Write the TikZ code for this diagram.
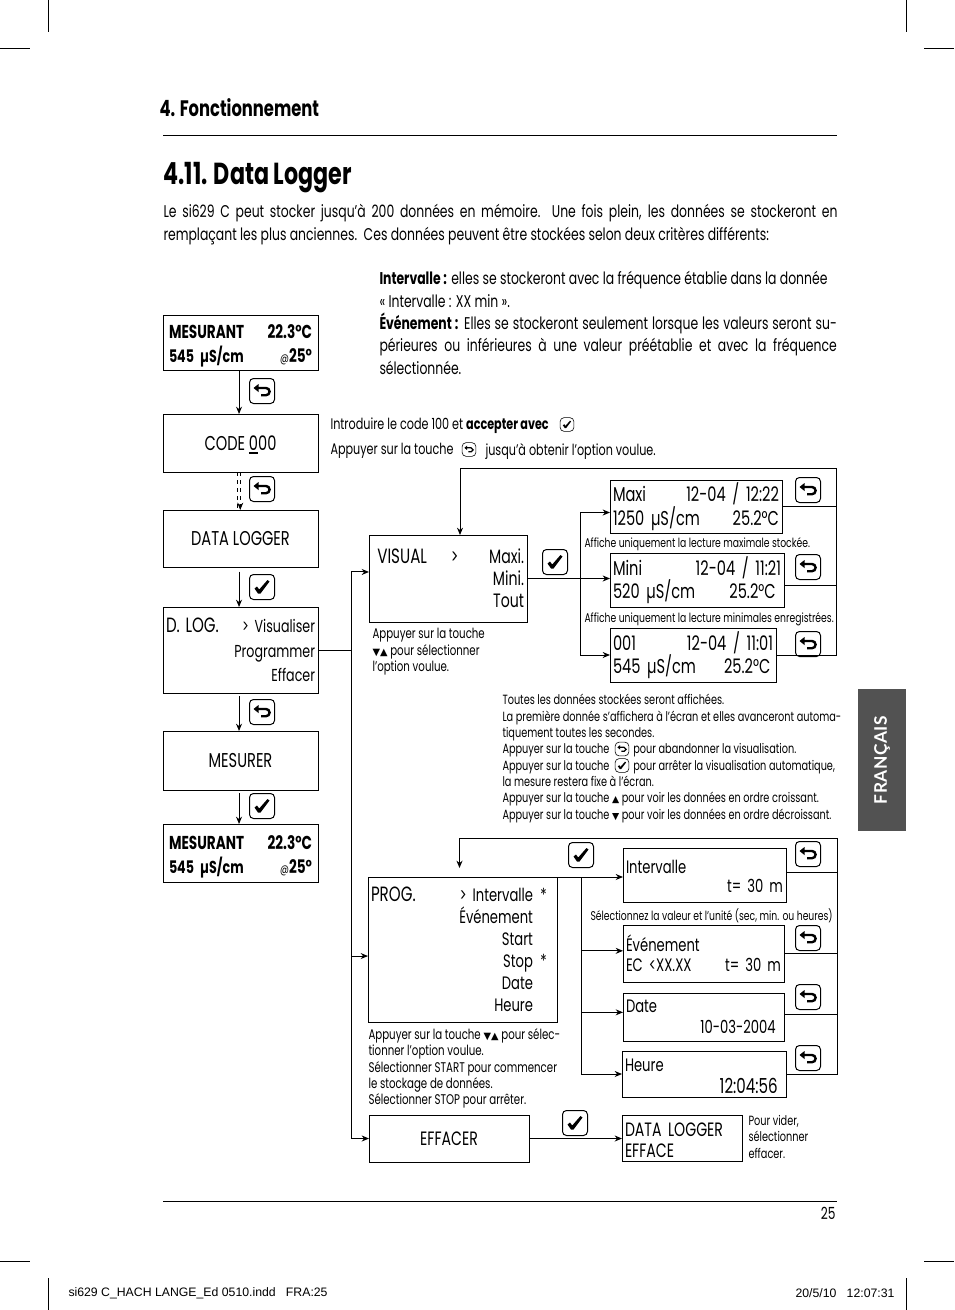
\documentclass[tikz,border=0pt]{standalone}
\usepackage{fontspec}
\setmainfont{Poppins}[FakeStretch=0.73]
\newfontfamily\symfont{DejaVu Sans}
\newfontfamily\tabfont[LetterSpace=3]{Lato}
\newfontfamily\slugfont{Liberation Sans}
\usetikzlibrary{arrows.meta, positioning, calc}

\newcommand{\twoside}[2]{\makebox[\hsize]{#1\hfill #2}}
\newcommand{\progmark}[1]{\makebox[15.75pt]{#1}}
\newcommand{\updn}{{\symfont\scalebox{0.7}{▼▲}}}
\newcommand{\upkey}{{\symfont\scalebox{0.7}{▲}}}
\newcommand{\dnkey}{{\symfont\scalebox{0.7}{▼}}}
\newcommand{\capsize}[1]{{\fontsize{15.5}{15.5}\selectfont #1}}
\newcommand{\lcdvalue}{{\fontsize{13}{18}\selectfont 545 µS/cm}}

\begin{document}
\begin{tikzpicture}[
    x=0.75pt, y=-0.75pt,
    >={Stealth[length=5.5pt,width=4.5pt]},
    line width=0.75pt,
    panel/.style={draw, anchor=north west, outer sep=0pt, inner xsep=2.25pt, inner ysep=0pt, align=left},
    flat/.style={draw, anchor=north west, outer sep=0pt, align=center, font=\fontsize{15}{17}\selectfont},
    note/.style={anchor=north west, inner sep=0pt, align=left, font=\fontsize{10}{12.25}\selectfont},
    body/.style={anchor=north west, inner sep=0pt, font=\fontsize{12.75}{16.8}\selectfont},
    drop/.style={execute at begin node={\rule{0pt}{#1}}},
    arrow/.style={->},
    keyframe/.style={line width=0.75pt},
    glyph/.style={line width=1.8pt},
    smallkey/.style={scale=0.55, keyframe/.style={line width=0.45pt}, glyph/.style={line width=0.95pt}},
    retkey/.pic={
      \draw[keyframe, rounded corners=3pt] (-12.5,-12.5) rectangle (12.5,12.5);
      \draw[glyph] (-5,-3) -- (4,-3) arc[start angle=-90, end angle=90, radius=3.6] -- (-1,4.2);
      \fill (-8.5,-3) -- (-3.5,-7) -- (-3.5,1) -- cycle;
    },
    chkkey/.pic={
      \draw[keyframe, rounded corners=3pt] (-12.5,-12.5) rectangle (12.5,12.5);
      \fill (-7.5,1.5) -- (-5,-0.5) -- (-2.8,2.5) -- (5.5,-7) -- (7.5,-5.5) -- (-1.5,6.5) -- (-4,6.5) -- cycle;
    },
  ]
  \useasboundingbox (0,0) rectangle (954,1310);

  % --- Crop marks ---
  \draw (48,0) -- (48,32);
  \draw (906,0) -- (906,32);
  \draw (0,48) -- (30,48);
  \draw (924,48) -- (954,48);
  \draw (0,1261) -- (30,1261);
  \draw (924,1261) -- (954,1261);
  \draw (48,1278) -- (48,1310);
  \draw (906,1278) -- (906,1310);

  % --- Page head ---
  \node[body, font=\fontsize{16.8}{18}\selectfont\bfseries] (chapter) at (159,98) {4. Fonctionnement};
  \draw (163,135) -- (837,135);
  \node[body, font=\fontsize{22.8}{24}\selectfont\bfseries] (section) at (163,162) {4.11. Data Logger};
  \node[body, text width=505.5pt, align=justify] (intro) at (163,204) {Le si629 C peut stocker jusqu’à 200 données en mémoire.\ \ Une fois plein, les données se stockeront en\linebreak remplaçant les plus anciennes.\ \ Ces données peuvent être stockées selon deux critères différents:};
  \node[body, text width=343pt, align=justify] (modes) at (379,271) {\textbf{Intervalle :} elles se stockeront avec la fréquence établie dans la donnée\\ « Intervalle : XX min ».\\ \textbf{Événement :} Elles se stockeront seulement lorsque les valeurs seront su-\linebreak périeures ou inférieures à une valeur préétablie et avec la fréquence\linebreak sélectionnée.};

  % --- Side tab and foot ---
  \node[fill=black!68, minimum width=36pt, minimum height=106.5pt, inner sep=0pt, outer sep=0pt] (tab) at (882,760) {};
  \node[rotate=90, text=white, font=\fontsize{13}{15}\selectfont\tabfont\bfseries] (tabtext) at (tab.center) {FRANÇAIS};
  \draw (163,1201) -- (837,1201);
  \node[note, font=\fontsize{12.5}{13}\selectfont, anchor=north east] (pageno) at (836,1207) {25};
  \node[anchor=west, inner sep=0pt, font=\fontsize{9.2}{10}\selectfont\slugfont] (slugl) at (68,1293) {si629 C\_HACH LANGE\_Ed 0510.indd\ \ \ FRA:25};
  \node[anchor=east, inner sep=0pt, font=\fontsize{9.2}{10}\selectfont\slugfont] (slugr) at (895,1293) {20/5/10\ \ \ 12:07:31};

  % --- Left column ---
  \node[panel, drop=16pt, inner xsep=4.5pt, text width=107.25pt, minimum height=41.25pt, font=\fontsize{14}{18}\selectfont\bfseries] (mes1) at (163,315) {\twoside{MESURANT}{22.3°C}\\ \twoside{\lcdvalue}{{\mdseries\small @}25°}};
  \node[flat, minimum width=116.25pt, minimum height=43.5pt] (code) at (163,414) {CODE \rlap{\smash{\rule[-3pt]{7pt}{1.5pt}}}000};
  \node[flat, minimum width=116.25pt, minimum height=42.75pt] (dlog) at (163,510) {DATA LOGGER};
  \node[panel, text width=111.75pt, minimum height=64.5pt, font=\fontsize{13}{18.4}\selectfont] (dlogm) at (163,607) {\twoside{\capsize{D. LOG.}}{> Visualiser}\\ \twoside{}{Programmer}\\ \twoside{}{Effacer}};
  \node[flat, minimum width=116.25pt, minimum height=44.25pt] (mesurer) at (163,731) {MESURER};
  \node[panel, drop=16pt, inner xsep=4.5pt, text width=107.25pt, minimum height=43.5pt, font=\fontsize{14}{18}\selectfont\bfseries] (mes2) at (163,824) {\twoside{MESURANT}{22.3°C}\\ \twoside{\lcdvalue}{{\mdseries\small @}25°}};

  \pic at (262,391) {retkey};
  \pic at (262,489) {retkey};
  \pic at (262,587) {chkkey};
  \pic at (262,712) {retkey};
  \pic at (262,806) {chkkey};

  \draw[arrow] ([xshift=-1.1pt]mes1.south) -- ([xshift=-1.1pt]code.north);
  \draw[dashed] ([xshift=-2pt]code.south) -- ([xshift=-2pt]dlog.north);
  \draw[arrow, dashed] ([xshift=-0.2pt]code.south) -- ([xshift=-0.2pt]dlog.north);
  \draw[arrow, shorten <=3.5pt] ([xshift=-1.1pt]dlog.south) -- ([xshift=-1.1pt]dlogm.north);
  \draw[arrow, shorten <=2.5pt] ([xshift=-1.1pt]dlogm.south) -- ([xshift=-1.1pt]mesurer.north);
  \draw[arrow, shorten <=2.5pt] ([xshift=-1.1pt]mesurer.south) -- ([xshift=-1.1pt]mes2.north);

  % --- Hints ---
  \node[note, font=\fontsize{11.5}{13}\selectfont] (hintcode) at (330,417) {Introduire le code 100 et \textbf{accepter avec}};
  \pic[smallkey] at (567,424.5) {chkkey};
  \node[note, font=\fontsize{11.5}{13}\selectfont] (hintkey) at (330,443) {Appuyer sur la touche};
  \pic[smallkey] at (469,449.5) {retkey};
  \node[note, font=\fontsize{11.5}{13}\selectfont] (hintgoal) at (485,443) {jusqu’à obtenir l’option voulue.};

  % --- Visualiser branch ---
  \node[panel, text width=114pt, minimum height=65.25pt, font=\fontsize{14.5}{16.5}\selectfont] (visual) at (369,535) {\twoside{\hspace*{4pt}\capsize{VISUAL}\hspace{18pt}>}{Maxi.}\\ \twoside{}{Mini.}\\ \twoside{}{Tout}};
  \node[panel, drop=14pt, text width=124.5pt, minimum height=39.75pt, font=\fontsize{15}{15.5}\selectfont] (maxi) at (610,480) {\twoside{Maxi}{12-04 / 12:22}\\ \twoside{1250 µS/cm}{25.2°C}};
  \node[panel, drop=14pt, text width=126pt, minimum height=40.5pt, font=\fontsize{15}{15.5}\selectfont] (mini) at (610,553) {\twoside{Mini}{12-04 / 11:21}\\ \twoside{520 µS/cm}{25.2°C\hspace*{4pt}}};
  \node[panel, drop=14pt, text width=120pt, minimum height=40.5pt, font=\fontsize{15}{15}\selectfont] (recall) at (610,628) {\twoside{001}{12-04 / 11:01}\\ \twoside{545 µS/cm}{25.2°C\hspace*{2pt}}};

  \node[note, font=\fontsize{9.5}{12}\selectfont] (hintmaxi) at (584,537) {Affiche uniquement la lecture maximale stockée.};
  \node[note, font=\fontsize{9.5}{12}\selectfont] (hintmini) at (584,612) {Affiche uniquement la lecture minimales enregistrées.};
  \node[note, font=\fontsize{10.5}{12.25}\selectfont] (hintvisual) at (372,628) {Appuyer sur la touche\\ \updn{} pour sélectionner\\ l’option voulue.};
  \node[note] (hintlog) at (502,694) {Toutes les données stockées seront affichées.\\ La première donnée s’affichera à l’écran et elles avanceront automa-\\ tiquement toutes les secondes.\\ Appuyer sur la touche \hspace{14pt} pour abandonner la visualisation.\\ Appuyer sur la touche \hspace{14pt} pour arrêter la visualisation automatique,\\ la mesure restera fixe à l’écran.\\ Appuyer sur la touche \upkey{} pour voir les données en ordre croissant.\\ Appuyer sur la touche \dnkey{} pour voir les données en ordre décroissant.};
  \pic[smallkey] at (622,749) {retkey};
  \pic[smallkey] at (622,765.5) {chkkey};

  \pic at (555,562) {chkkey};
  \pic at (808,490) {retkey};
  \pic at (808,567) {retkey};
  \pic at (808,644) {retkey};

  \coordinate (visbus) at (580.5,578.5);
  \coordinate (visrail) at (836,468);
  \coordinate (visin) at (460,535);
  \draw[arrow] (visual.east) -- (visual.east -| mini.west);
  \draw[arrow] (visbus) |- ([yshift=-4.5pt]maxi.west);
  \draw[arrow] (visbus) |- (recall.west);
  \draw (maxi.east) -- (maxi.east -| visrail);
  \draw ([yshift=-3.75pt]mini.east) -- ([yshift=-3.75pt]mini.east -| visrail);
  \draw[arrow] (recall.east) -- (recall.east -| visrail) -- (visrail) -- (visrail -| visin) -- (visin);

  % --- Programmer branch ---
  \node[panel, text width=137.25pt, minimum height=108.75pt, font=\fontsize{13.5}{16.5}\selectfont] (prog) at (368,877) {\twoside{\capsize{PROG.}}{> Intervalle\progmark{*}}\\ \twoside{}{Événement\progmark{}}\\ \twoside{}{Start\progmark{}}\\ \twoside{}{Stop\progmark{*}}\\ \twoside{}{Date\progmark{}}\\ \twoside{}{Heure\progmark{}}};
  \node[panel, drop=12pt, text width=117.75pt, minimum height=40.5pt, font=\fontsize{13.5}{14.5}\selectfont] (intv) at (623,848) {Intervalle\\ \twoside{}{t= 30 m}};
  \node[panel, text width=116.25pt, minimum height=42.75pt, font=\fontsize{13.5}{15}\selectfont] (event) at (623,925) {Événement\\ \twoside{EC <XX.XX}{t= 30 m}};
  \node[panel, text width=116.25pt, minimum height=36pt, font=\fontsize{13.5}{16}\selectfont] (date) at (623,993) {Date\\ \twoside{}{10-03-2004\hspace*{4pt}}};
  \node[panel, drop=13pt, text width=118.5pt, minimum height=34.5pt, font=\fontsize{13.5}{16}\selectfont] (heure) at (622,1051) {Heure\\ \twoside{}{\capsize{12:04:56}\hspace*{4pt}}};
  \node[flat, minimum width=120pt, minimum height=35.25pt, font=\fontsize{14.5}{17}\selectfont] (effacer) at (369,1115) {EFFACER};
  \node[panel, drop=14pt, text width=85.5pt, minimum height=34.5pt, font=\fontsize{14.5}{15.75}\selectfont] (cleared) at (622,1115) {DATA LOGGER\\ EFFACE};

  \node[note, font=\fontsize{9.5}{12}\selectfont] (hintunit) at (590,908) {Sélectionnez la valeur et l'unité (sec, min. ou heures)};
  \node[note, font=\fontsize{10.5}{12.25}\selectfont] (hintprog) at (368,1028) {Appuyer sur la touche \updn{} pour sélec-\\ tionner l’option voulue.\\ Sélectionner START pour commencer\\ le stockage de données.\\ Sélectionner STOP pour arrêter.};
  \node[note] (hintclear) at (748,1115) {Pour vider,\\ sélectionner\\ effacer.};

  \pic at (581,855) {chkkey};
  \pic at (808,854) {retkey};
  \pic at (808,938) {retkey};
  \pic at (808,997) {retkey};
  \pic at (808,1058) {retkey};
  \pic at (575,1123) {chkkey};

  \coordinate (progbus) at (581,877);
  \coordinate (prograil) at (837,838);
  \coordinate (progin) at (459.5,868);
  \draw[arrow] (prog.north east) -- (prog.north east -| intv.west);
  \draw[arrow] (progbus) |- ([yshift=2pt]event.west);
  \draw[arrow] (progbus) |- ([yshift=3.5pt]date.west);
  \draw[arrow] (progbus) |- (heure.west);
  \draw ([yshift=2.25pt]intv.east) -- ([yshift=2.25pt]intv.east -| prograil);
  \draw[line width=1.4pt] (event.east) -- (event.east -| prograil);
  \draw ([yshift=2.25pt]date.east) -- ([yshift=2.25pt]date.east -| prograil);
  \draw[arrow] (heure.east) -- (heure.east -| prograil) -- (prograil) -- (prograil -| progin) -- (progin);
  \draw[arrow] (effacer.east) -- (effacer.east -| cleared.west);

  % --- Feed from the log menu ---
  \coordinate (logbus) at (351,650);
  \draw (dlogm.east) -- (logbus);
  \draw[arrow] (logbus) |- ([yshift=4.9pt]visual.west);
  \draw[arrow] (logbus) |- ([yshift=-4.9pt]prog.west);
  \draw[arrow] (logbus) |- (effacer.west);

\end{tikzpicture}
\end{document}
